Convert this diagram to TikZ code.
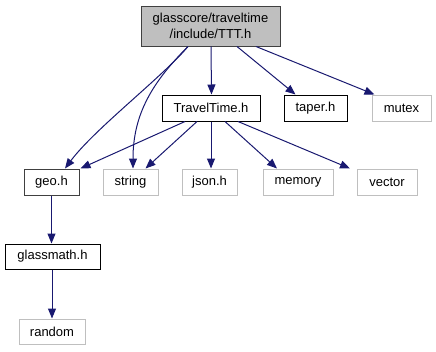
\documentclass[tikz,border=0pt]{standalone}
\usepackage{fontspec}
\setmainfont{Liberation Sans}
\usetikzlibrary{arrows.meta}
\definecolor{edgeblue}{HTML}{191970}
\definecolor{extgray}{HTML}{BFBFBF}
\definecolor{curfill}{HTML}{BFBFBF}
\definecolor{curline}{HTML}{404040}
\begin{document}
\begin{tikzpicture}[x=1pt,y=-1pt,
  file/.style={draw=black,line width=1pt,fill=white,inner sep=0pt,
    font=\fontsize{13}{15.5}\selectfont,anchor=center},
  ext/.style={file,draw=extgray},
  cur/.style={file,draw=curline,fill=curfill,align=center},
  dep/.style={draw=edgeblue,line width=1pt,
    -{Triangle[length=10pt,width=8pt]}}]
\useasboundingbox (0,0) rectangle (436,351);

% source file under inspection
\node[cur,minimum width=139pt,minimum height=40pt] (ttt) at (210.5,26)
  {glasscore/traveltime\\/include/TTT.h};

% second row
\node[file,minimum width=98pt,minimum height=26pt] (tt) at (211,108) {TravelTime.h};
\node[file,minimum width=63pt,minimum height=26pt] (taper) at (315.5,108) {taper.h};
\node[ext,minimum width=59pt,minimum height=26pt] (mutex) at (401.5,108) {mutex};

% third row
\node[file,draw=curline,minimum width=55pt,minimum height=26pt] (geo) at (51.5,182) {geo.h};
\node[ext,minimum width=55pt,minimum height=26pt] (string) at (130.5,182) {string};
\node[ext,minimum width=55pt,minimum height=26pt] (json) at (209.5,182) {json.h};
\node[ext,minimum width=70pt,minimum height=26pt] (memory) at (298,182) {memory};
\node[ext,minimum width=60pt,minimum height=26pt] (vector) at (387,182) {vector};

% lower chain
\node[file,minimum width=95pt,minimum height=25pt] (glassmath) at (52.5,256.5) {glassmath.h};
\node[ext,minimum width=66pt,minimum height=25pt] (random) at (52,331.5) {random};

% includes of TTT.h
\draw[dep] ([xshift=-22.5pt]ttt.south) .. controls +(-25,30) and +(30,-40) .. ([xshift=13.5pt]geo.north);
\draw[dep] ([xshift=-22.5pt]ttt.south) .. controls +(-35,35) and +(0,-55) .. ([xshift=2.5pt]string.north);
\draw[dep] ([xshift=0.5pt]ttt.south) -- ([xshift=0.5pt]tt.north);
\draw[dep] ([xshift=26.5pt]ttt.south) -- ([xshift=-20pt]taper.north);
\draw[dep] ([xshift=45.5pt]ttt.south) -- ([xshift=3pt]mutex.north west);

% includes of TravelTime.h
\draw[dep] ([xshift=-26pt]tt.south) -- ([xshift=1pt]geo.north east);
\draw[dep] ([xshift=-14pt]tt.south) -- ([xshift=15pt]string.north);
\draw[dep] (tt.south) -- ([xshift=1.5pt]json.north);
\draw[dep] ([xshift=14pt]tt.south) -- ([xshift=-21pt]memory.north);
\draw[dep] ([xshift=27pt]tt.south) -- ([xshift=-37pt]vector.north);

% remaining chain
\draw[dep] (geo.south) -- ([xshift=-1pt]glassmath.north);
\draw[dep] ([xshift=-0.5pt]glassmath.south) -- (random.north);
\end{tikzpicture}
\end{document}
